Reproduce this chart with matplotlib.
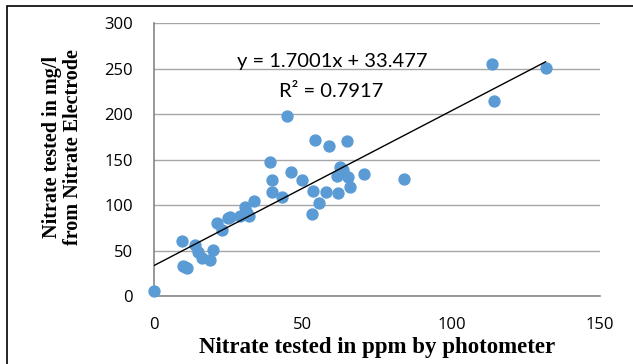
import matplotlib.pyplot as plt
import numpy as np

# Photometer (ppm) vs nitrate electrode (mg/l) readings
photometer = [0, 9.3, 9.9, 11.0, 10.4, 13.8, 14.9, 16.0, 18.8, 20.0,
              21.1, 22.8, 25.0, 25.6, 28.9, 30.6, 31.4, 32.0, 33.6, 39.0,
              39.8, 39.6, 42.9, 44.6, 46.1, 49.9, 53.6, 55.5, 53.2, 54.2,
              57.9, 59.0, 62.0, 61.7, 62.6, 63.5, 64.8, 65.4, 65.9, 70.7,
              84.1, 113.6, 114.4, 131.7]
electrode = [5, 60.8, 33, 30.5, 32, 56, 48.7, 41.4, 39.6, 50.5,
             80.6, 72.5, 85.4, 87, 88, 98, 91, 88, 104.7, 147.6,
             127.5, 114.6, 109, 198, 136, 128, 115.7, 101.8, 90, 171.4,
             114, 165, 112.8, 131.9, 142, 139, 170.7, 131, 119.4, 133.7,
             128.6, 254.6, 214.6, 250.2]

slope = 1.7001
intercept = 33.477
x_ticks = [0, 50, 100, 150]
y_ticks = [0, 50, 100, 150, 200, 250, 300]

fig = plt.figure(figsize=(6.33, 3.64), dpi=100)
ax = fig.add_axes([0.2433, 0.1868, 0.7046, 0.75])

ax.scatter(photometer, electrode, s=62, color='#5B9BD5', zorder=3, clip_on=False)

# linear trendline across the data range
xl = np.array([0, max(photometer)])
ax.plot(xl, slope * xl + intercept, color='black', lw=1, zorder=4)

ax.set_xlim(0, 150)
ax.set_ylim(0, 300)
ax.set_xticks(x_ticks)
ax.set_yticks(y_ticks)
ax.grid(axis='y', color='#a6a6a6', lw=1)
ax.set_axisbelow(True)
for s in ['top', 'right']:
    ax.spines[s].set_visible(False)
for s in ['left', 'bottom']:
    ax.spines[s].set_color('#868686')
    ax.spines[s].set_linewidth(1.2)
ax.tick_params(length=0, labelsize=12, labelcolor='black')
ax.tick_params(axis='y', pad=15)
ax.tick_params(axis='x', pad=15)
for lab in ax.get_xticklabels() + ax.get_yticklabels():
    lab.set_fontfamily('Open Sans')

ax.text(59.8, 257.5, 'y = 1.7001x + 33.477', fontsize=14.5, fontfamily='Lato',
        ha='center', va='center')
ax.text(59.5, 224.5, 'R² = 0.7917', fontsize=14.5, fontfamily='Lato',
        ha='center', va='center')

fig.text(0.099, 0.597, 'Nitrate tested in mg/l\nfrom Nitrate Electrode',
         rotation=90, ha='center', va='center', fontsize=14.5,
         fontweight='bold', fontfamily='Liberation Serif', linespacing=1.1)
fig.text(0.596, 0.044, 'Nitrate tested in ppm by photometer', ha='center',
         va='center', fontsize=16.5, fontweight='bold',
         fontfamily='Liberation Serif')

# outer chart border
fig.add_artist(plt.Rectangle((7 / 633, -0.05), 1.0, 1 - 6 / 364 + 0.05,
                             transform=fig.transFigure, fill=False,
                             edgecolor='black', lw=1.2))

fig.savefig('out.png', dpi=100)
